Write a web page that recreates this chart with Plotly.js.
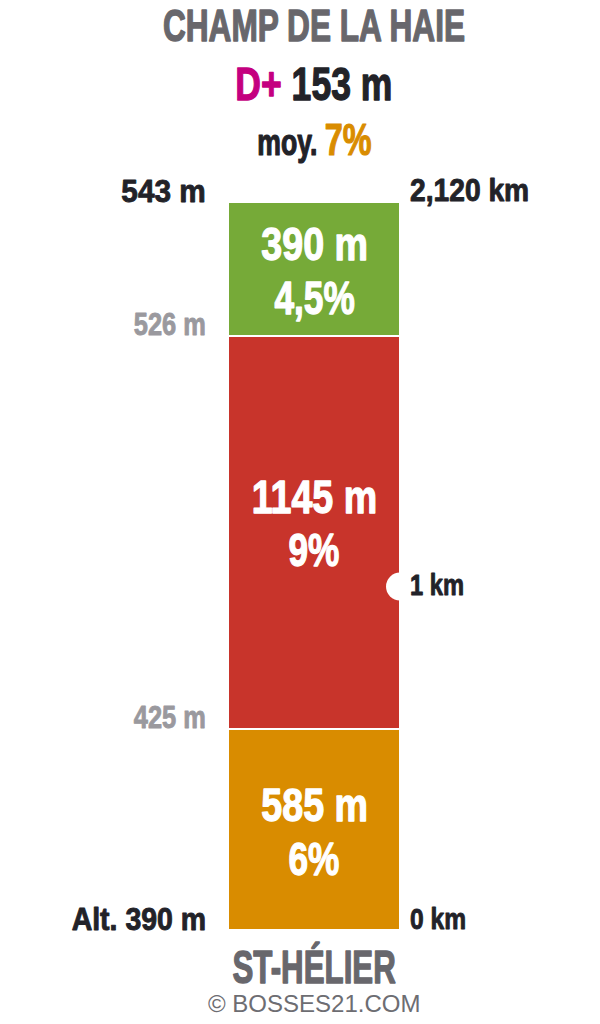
<!DOCTYPE html>
<html><head><meta charset="utf-8">
<script src="https://cdn.plot.ly/plotly-3.0.1.min.js"></script>
<style>html,body{margin:0;padding:0;background:#fff}#chart{width:600px;height:1024px}</style>
</head><body><div id="chart"></div><script>
// ---- data ----
const segLengths = [585, 1145, 390];          // metres of each section
const segGrades  = ['6%', '9%', '4,5%'];
const segColors  = ['#d98c00', '#c8342b', '#76aa38'];
const altitudes  = [390, 425, 526, 543];      // altitude at each section boundary
const altLabels  = ['Alt. 390 m', '425 m', '526 m', '543 m'];
const kmMarks    = [0, 1, 2.12];
const kmLabels   = ['0 km', '1 km', '2,120 km'];
const climbName  = 'CHAMP DE LA HAIE';
const startName  = 'ST-HÉLIER';
const dPlus      = 153;
const avgGrade   = '7%';
const credit     = '© BOSSES21.COM';

// ---- styling ----
const FONT = 'Liberation Sans, Arial, sans-serif';
const DARK = '#222228', GREY_T = '#68676c', GREY_L = '#9a999e';
const labelShift = [0, 11.5, 0];              // vertical nudge of the in-bar labels (px)
const altSize = [32, 31, 31, 32], altSqueeze = [0.89, 0.82, 0.82, 0.93];
const kmSize = [30, 30, 31], kmSqueeze = [0.82, 0.79, 0.91];

const cum = [0];
segLengths.forEach(v => cum.push(cum[cum.length-1] + v));
const total = cum[cum.length-1];

const TOP = 202, BOT = 930;
const py = p => (BOT - p) / (BOT - TOP);

const traces = segLengths.map((v, i) => ({
  type: 'bar', x: [0], y: [v], width: 1,
  marker: {color: segColors[i], line: {color: '#ffffff', width: 2}},
  hoverinfo: 'skip', showlegend: false
}));
traces.push({
  type: 'scatter', mode: 'markers', x: [0.5], y: [kmMarks[1] * 1000],
  marker: {size: 28, color: '#ffffff'}, cliponaxis: false,
  hoverinfo: 'skip', showlegend: false
});

const items = [];
const add = (a, sx, sw) => items.push({a: Object.assign({showarrow: false}, a), sx: sx, sw: sw || 0});

// in-bar labels
segLengths.forEach((v, i) => {
  const mid = cum[i] + v / 2;
  add({xref: 'x', yref: 'y', x: 0, y: mid, xanchor: 'center', yanchor: 'middle',
    yshift: 25 + labelShift[i], text: v + ' m',
    font: {family: FONT, size: 47, weight: 700, color: '#ffffff'}}, 0.8, 1.3);
  add({xref: 'x', yref: 'y', x: 0, y: mid, xanchor: 'center', yanchor: 'middle',
    yshift: -28.5 + labelShift[i], text: segGrades[i],
    font: {family: FONT, size: 47, weight: 700, color: '#ffffff'}}, 0.75, 1.3);
});
// altitude labels (left)
altLabels.forEach((t, i) => {
  const dark = (i === 0 || i === altLabels.length - 1);
  add({xref: 'paper', yref: 'y', x: 0, y: cum[i], xanchor: 'right', yanchor: 'middle',
    xshift: -20, yshift: 11.5, text: t,
    font: {family: FONT, size: altSize[i], weight: 700, color: dark ? DARK : GREY_L}}, altSqueeze[i], 0.9);
});
// distance labels (right)
kmMarks.forEach((k, i) => {
  const mid = i === 1;
  add({xref: 'paper', yref: 'y', x: 1, y: k * 1000, xanchor: 'left', yanchor: 'middle',
    xshift: 8, yshift: mid ? 2 : 11.5, text: kmLabels[i],
    font: {family: FONT, size: kmSize[i], weight: 700, color: DARK}}, kmSqueeze[i], 0.9);
});
// header / footer
add({xref: 'paper', yref: 'paper', x: 0.5, y: py(26), xanchor: 'center', yanchor: 'middle',
  text: climbName, font: {family: FONT, size: 45, weight: 700, color: GREY_T}}, 0.703, 1.4);
add({xref: 'paper', yref: 'paper', x: 0.5, y: py(84), xanchor: 'center', yanchor: 'middle',
  text: '<span style="color:#c4007f">D+</span> ' + dPlus + ' m',
  font: {family: FONT, size: 47, weight: 700, color: DARK}}, 0.756, 1.3);
add({xref: 'paper', yref: 'paper', x: 0.5, y: py(139), xanchor: 'center', yanchor: 'middle',
  text: 'moy. <span style="color:#d98c00;font-size:45px">' + avgGrade + '</span>',
  font: {family: FONT, size: 37, weight: 700, color: DARK}}, 0.72, 1.2);
add({xref: 'paper', yref: 'paper', x: 0.5, y: py(966.5), xanchor: 'center', yanchor: 'middle',
  text: startName, font: {family: FONT, size: 46, weight: 700, color: GREY_T}}, 0.68, 1.4);
add({xref: 'paper', yref: 'paper', x: 0.5, y: py(1003.5), xanchor: 'center', yanchor: 'middle',
  text: credit, font: {family: FONT, size: 24, color: '#6d6d72'}}, 1, 0);

const layout = {
  width: 600, height: 1024,
  margin: {l: 228, r: 200, t: TOP, b: 1024 - BOT, pad: 0},
  paper_bgcolor: '#ffffff', plot_bgcolor: '#ffffff',
  barmode: 'stack', bargap: 0, showlegend: false,
  xaxis: {range: [-0.5, 0.5], visible: false, fixedrange: true},
  yaxis: {range: [0, total], visible: false, fixedrange: true},
  annotations: items.map(o => o.a)
};

Plotly.newPlot('chart', traces, layout, {staticPlot: true, displayModeBar: false}).then(gd => {
  // narrow and thicken the bold face to imitate the condensed heavy lettering
  const NS = 'http://www.w3.org/2000/svg';
  gd.querySelectorAll('g.annotation').forEach(g => {
    const idx = +g.getAttribute('data-index');
    const it = items[idx];
    if (!it) return;
    const t = g.querySelector('text.annotation-text');
    if (!t) return;
    if (it.sw) {
      [t].concat(Array.from(t.querySelectorAll('tspan'))).forEach(el => {
        const f = getComputedStyle(el).fill;
        el.style.stroke = f;
        el.style.strokeWidth = it.sw + 'px';
        el.style.strokeLinejoin = 'round';
      });
    }
    if (it.sx === 1) return;
    const w = document.createElementNS(NS, 'g');
    t.parentNode.insertBefore(w, t);
    w.appendChild(t);
    const bb = w.getBBox();
    const anc = it.a.xanchor;
    const ax = anc === 'right' ? bb.x + bb.width : anc === 'left' ? bb.x : bb.x + bb.width / 2;
    w.setAttribute('transform', 'translate(' + (ax * (1 - it.sx)) + ',0) scale(' + it.sx + ',1)');
  });
});
</script></body></html>
